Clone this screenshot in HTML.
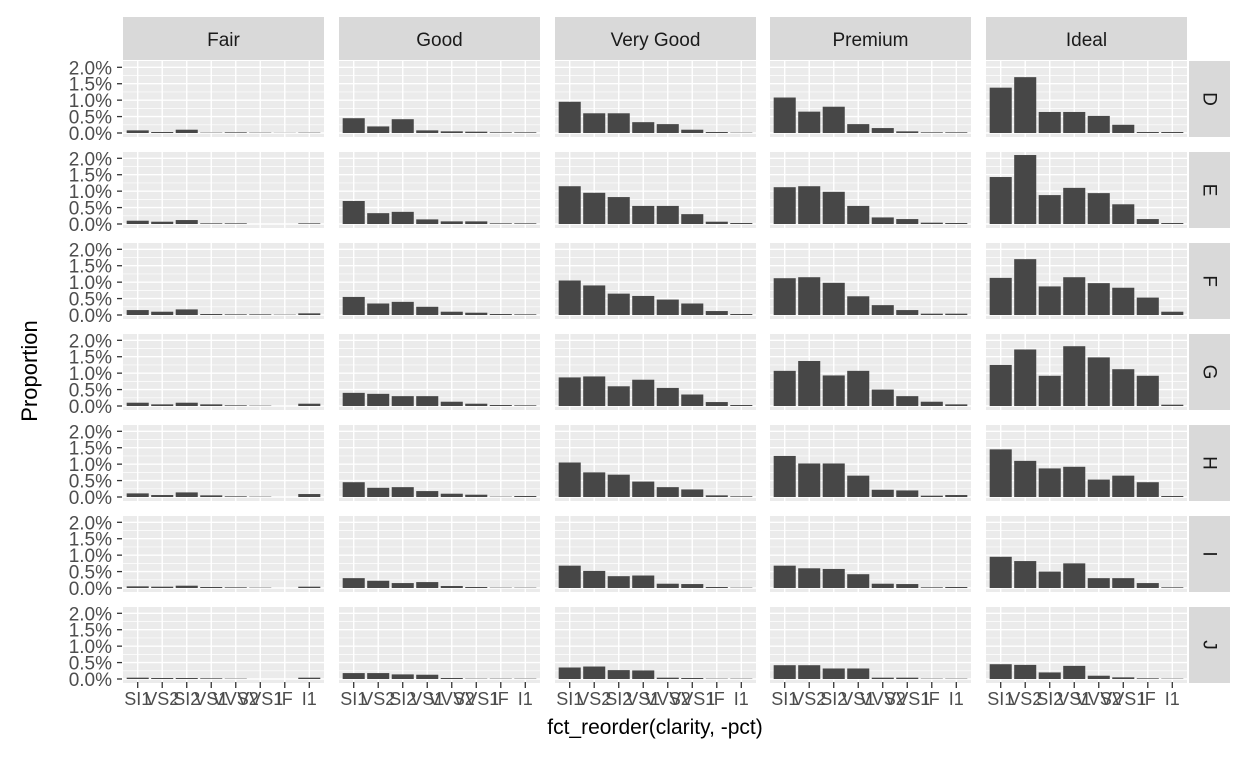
<!DOCTYPE html>
<html><head><meta charset="utf-8"><style>
body{margin:0;background:#fff}
svg text{font-family:"Liberation Sans",Arial,sans-serif}
</style></head><body>
<svg id="chart" width="1248" height="768" xmlns="http://www.w3.org/2000/svg"></svg>
<script>
const cuts = ["Fair","Good","Very Good","Premium","Ideal"];
const colors = ["D","E","F","G","H","I","J"];
const clarity = ["SI1","VS2","SI2","VS1","VVS2","VVS1","IF","I1"];
const yTicks = [0,0.5,1,1.5,2];
const yTickLabels = ["0.0%","0.5%","1.0%","1.5%","2.0%"];
const fair = [
[0.08,0.03,0.1,0.01,0.02,0.01,0.005,0.01],
[0.1,0.07,0.12,0.02,0.02,0,0,0.02],
[0.15,0.1,0.17,0.03,0.02,0.02,0.01,0.05],
[0.1,0.05,0.1,0.05,0.02,0.01,0,0.07],
[0.11,0.06,0.14,0.05,0.02,0.01,0,0.09],
[0.05,0.04,0.07,0.03,0.02,0.01,0,0.04],
[0.04,0.03,0.03,0.02,0.01,0,0,0.04]];
const good = [
[0.45,0.2,0.42,0.08,0.05,0.04,0.02,0.02],
[0.7,0.33,0.37,0.14,0.08,0.08,0.02,0.02],
[0.55,0.35,0.4,0.25,0.1,0.07,0.03,0.02],
[0.4,0.37,0.3,0.3,0.13,0.07,0.03,0.02],
[0.45,0.28,0.3,0.18,0.1,0.07,0.01,0.03],
[0.3,0.22,0.15,0.18,0.06,0.03,0.01,0.01],
[0.18,0.18,0.14,0.13,0.03,0.01,0.01,0.01]];
const veryGood = [
[0.95,0.6,0.6,0.33,0.27,0.1,0.03,0.01],
[1.15,0.95,0.82,0.55,0.55,0.3,0.07,0.03],
[1.05,0.9,0.65,0.58,0.47,0.35,0.12,0.03],
[0.87,0.9,0.6,0.8,0.55,0.35,0.12,0.03],
[1.05,0.75,0.68,0.47,0.3,0.23,0.05,0.02],
[0.68,0.52,0.36,0.38,0.13,0.12,0.03,0.01],
[0.35,0.38,0.27,0.26,0.04,0.03,0.01,0.01]];
const premium = [
[1.08,0.65,0.8,0.27,0.15,0.05,0.02,0.02],
[1.12,1.15,0.98,0.55,0.2,0.15,0.04,0.03],
[1.12,1.15,0.98,0.57,0.3,0.15,0.04,0.04],
[1.07,1.37,0.93,1.07,0.5,0.3,0.13,0.05],
[1.25,1.02,1.02,0.65,0.22,0.2,0.04,0.06],
[0.68,0.6,0.58,0.42,0.13,0.12,0.02,0.03],
[0.42,0.42,0.32,0.32,0.04,0.04,0.01,0.01]];
const ideal = [
[1.38,1.7,0.64,0.64,0.52,0.25,0.03,0.03],
[1.43,2.1,0.88,1.1,0.94,0.6,0.15,0.03],
[1.13,1.7,0.87,1.15,0.97,0.83,0.53,0.1],
[1.25,1.72,0.92,1.82,1.48,1.12,0.92,0.04],
[1.45,1.1,0.87,0.92,0.53,0.65,0.45,0.03],
[0.95,0.82,0.5,0.75,0.3,0.3,0.15,0.02],
[0.45,0.43,0.2,0.4,0.1,0.05,0.02,0.01]];
const allData = [fair, good, veryGood, premium, ideal];

const svg = document.getElementById('chart');
const NS = "http://www.w3.org/2000/svg";
function mk(tag, attrs, parent){const e=document.createElementNS(NS,tag);for(const k in attrs)e.setAttribute(k,attrs[k]);(parent||svg).appendChild(e);return e;}
const colLeft = [123,339,555,770,986], panelW = 201;
const rowTop0 = 61, rowStep = 91, panelH = 76;
const unit = panelW/8.2;
function xPos(col,i){return colLeft[col] + (0.6+i)*unit;}
function yPos(row,v){return rowTop0 + row*rowStep + 72 - v*32.85;}

cuts.forEach((c,ci)=>{
  const r = mk('rect',{x:colLeft[ci],y:17,width:panelW,height:43,fill:'#D9D9D9'});
  
  
  const t = mk('text',{x:colLeft[ci]+panelW/2,y:46,'text-anchor':'middle','font-size':'19',fill:'#1A1A1A'});
  t.textContent=c;
  
  
});
colors.forEach((c,ri)=>{
  const top = rowTop0+ri*rowStep;
  const r = mk('rect',{x:1189,y:top,width:41,height:panelH,fill:'#D9D9D9'});
  
  
  const t = mk('text',{x:1209,y:top+panelH/2,'text-anchor':'middle','font-size':'19',fill:'#1A1A1A','dominant-baseline':'central',transform:`rotate(90 1209 ${top+panelH/2})`});
  t.textContent=c;
  
  
  yTicks.forEach((v,k)=>{
    const y=yPos(ri,v);
    mk('line',{x1:117,x2:122,y1:y,y2:y,stroke:'#333','stroke-width':1.3});
    const tl = mk('text',{x:112,y:y+7,'text-anchor':'end','font-size':'19',fill:'#4D4D4D'});
    tl.textContent=yTickLabels[k];
    
    
  });
});
allData.forEach((data,ci)=>{
  colors.forEach((c,ri)=>{
    const top=rowTop0+ri*rowStep;
    const p = mk('rect',{x:colLeft[ci],y:top,width:panelW,height:panelH,fill:'#EBEBEB'});
    
    
    for(let v=0.25; v<2.2; v+=0.5){const y=yPos(ri,v); if(y>top) mk('line',{x1:colLeft[ci],x2:colLeft[ci]+panelW,y1:y,y2:y,stroke:'#fff','stroke-width':0.7});}
    yTicks.forEach(v=>{const y=yPos(ri,v); mk('line',{x1:colLeft[ci],x2:colLeft[ci]+panelW,y1:y,y2:y,stroke:'#fff','stroke-width':1.4});});
    clarity.forEach((cl,i)=>{const x=xPos(ci,i); mk('line',{x1:x,x2:x,y1:top,y2:top+panelH,stroke:'#fff','stroke-width':1.4});});
    data[ri].forEach((v,i)=>{
      const x=xPos(ci,i), y0=yPos(ri,0), y1=yPos(ri,v);
      const b = mk('rect',{x:x-0.45*unit,y:y1,width:0.9*unit,height:Math.max(y0-y1,0),fill:'#474747'});
      
      
    });
  });
  clarity.forEach((cl,i)=>{
    const x=xPos(ci,i);
    mk('line',{x1:x,x2:x,y1:682,y2:688,stroke:'#333','stroke-width':1.3});
    const t=mk('text',{x:x,y:705,'text-anchor':'middle','font-size':'18',fill:'#4D4D4D'});
    t.textContent=cl;
    
    
  });
});
const xt=mk('text',{x:655,y:734,'text-anchor':'middle','font-size':'21',fill:'#000'});
xt.textContent='fct_reorder(clarity, -pct)';


const yt=mk('text',{x:37,y:371,'text-anchor':'middle','font-size':'22',fill:'#000',transform:'rotate(-90 37 371)'});
yt.textContent='Proportion';


</script>
</body></html>
